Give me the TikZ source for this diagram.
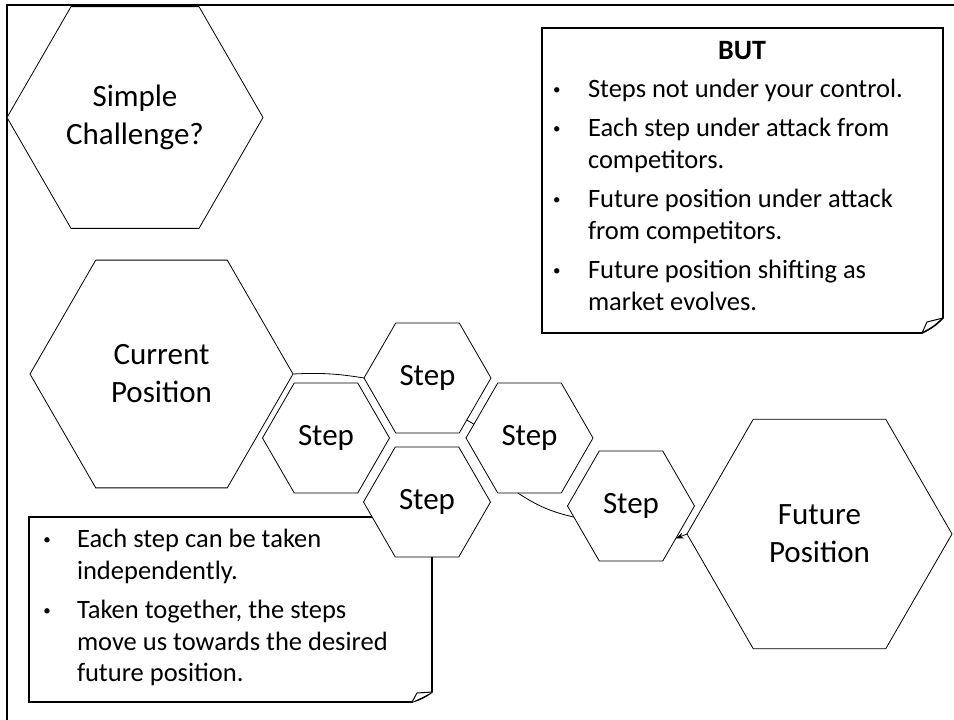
\documentclass[tikz,border=0pt]{standalone}
\usepackage{fontspec}
\setmainfont{Carlito}
\usetikzlibrary{shapes.geometric,arrows.meta}
% small round bullet for the note lists
\newcommand{\dotmark}{\raisebox{3pt}{\fontsize{15}{15}\selectfont\textbullet}}
\begin{document}
\begin{tikzpicture}[x=1pt,y=-1pt,
  hexcell/.style={regular polygon, regular polygon sides=6, draw=black,
    line width=0.8pt, fill=white, inner sep=0pt, outer sep=0pt,
    align=center, font=\fontsize{31}{38}\selectfont},
  smallhex/.style={hexcell, minimum size=127pt},
  notebox/.style={rectangle, inner sep=0pt, outer sep=0pt},
  noteline/.style={line width=1.6pt, line join=miter},
  listtext/.style={inner sep=0pt, outer sep=0pt, anchor=north west,
    font=\fontsize{26.5}{31.5}\selectfont},
  link/.style={line width=0.8pt},
]
\useasboundingbox (0,0) rectangle (954,720);

% outer frame
\draw[line width=2pt] (7,720) -- (7,5) -- (954,5);

% lower note with folded corner
\node[notebox, minimum width=403pt, minimum height=185pt] (note) at (230.5,609.5) {};
\draw[noteline, fill=white] (note.north west) -- (note.north east)
  -- ([yshift=10pt]note.south east) to[bend left=10] ([xshift=-20pt]note.south east)
  -- (note.south west) -- cycle;
\draw[line width=1pt, fill=white] ([xshift=-20pt]note.south east)
  -- ([xshift=-15pt,yshift=9pt]note.south east) -- ([yshift=10pt]note.south east);
\node[listtext] (notelist) at (43.3,525.8) {%
  \begin{tabular}{@{}p{33.7pt}@{}l@{}}
  \dotmark & Each step can be taken\\
           & independently.\\[8pt]
  \dotmark & Taken together, the steps\\
           & move us towards the desired\\
           & future position.
  \end{tabular}};

% upper note with folded corner
\node[notebox, minimum width=401pt, minimum height=305pt] (but) at (742.5,180.5) {};
\draw[noteline, fill=white] (but.north west) -- (but.north east)
  -- ([yshift=15pt]but.south east) to[bend left=10] ([xshift=-21pt]but.south east)
  -- (but.south west) -- cycle;
\draw[line width=1pt] ([xshift=-21pt]but.south east)
  -- ([xshift=-16pt,yshift=11pt]but.south east) -- ([yshift=15pt]but.south east);
\node[anchor=base, inner sep=0pt, font=\fontsize{28}{34}\selectfont\bfseries] (buttitle) at (742,59) {BUT};
\node[listtext] (butlist) at (553,75.1) {%
  \begin{tabular}{@{}p{35pt}@{}l@{}}
  \dotmark & Steps not under your control.\\[8pt]
  \dotmark & Each step under attack from\\
           & competitors.\\[8pt]
  \dotmark & Future position under attack\\
           & from competitors.\\[8pt]
  \dotmark & Future position shifting as\\
           & market evolves.
  \end{tabular}};

% hexagons
\node[hexcell, minimum size=256pt] (sc) at (135,117.5) {Simple\\Challenge?};
\node[hexcell, minimum size=263pt] (cp) at (161.5,374) {Current\\Position};
\node[hexcell, minimum size=265pt] (fp) at (819.5,534) {Future\\Position};
\node[smallhex] (ts) at (427.5,378) {Step};
\node[smallhex] (ls) at (326,438) {Step};
\node[smallhex] (rs) at (529.5,438) {Step};
\node[smallhex] (bs) at (427,502) {Step};
\node[smallhex] (fs) at (631,506) {Step};

% connectors
\draw[link] (cp.east) to[bend left=6] (ts.west);
\draw[link] (ts.-47) -- (rs.166);
\draw[link] (rs.-102) to[bend right=10] (fs.191);
\draw[link, -{Stealth[length=8pt,width=6pt]}] (fp.west) -- (fs.-36);
\end{tikzpicture}
\end{document}
